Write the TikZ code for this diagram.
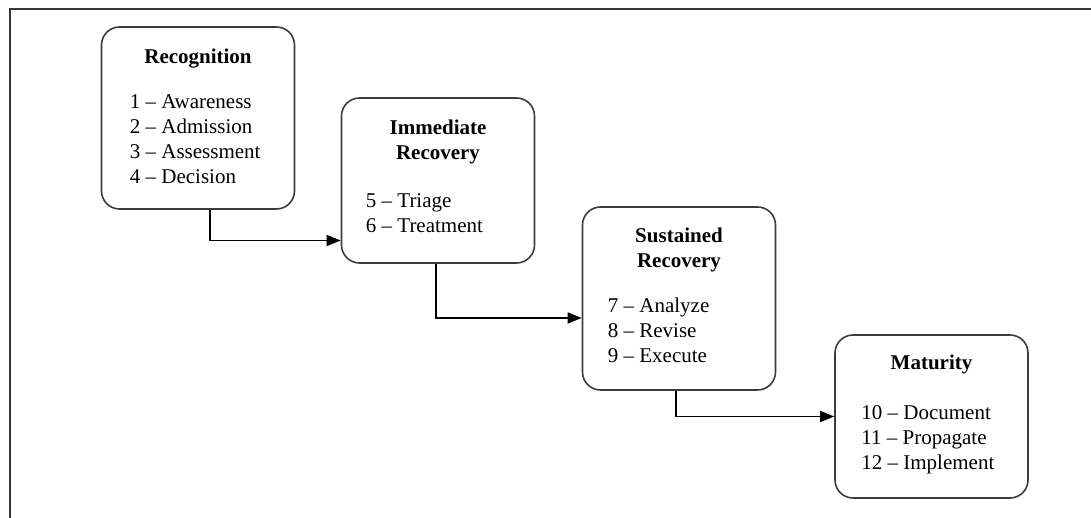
\documentclass[tikz,border=0pt]{standalone}
\usepackage{fontspec}
\setmainfont{Liberation Serif}
\usetikzlibrary{arrows.meta, positioning}
\definecolor{boxLine}{RGB}{60,60,60}
\definecolor{frameLine}{RGB}{55,55,55}

\begin{document}
\begin{tikzpicture}[x=1pt, y=1pt,
    phase/.style={draw=boxLine, line width=1.6pt, rounded corners=18pt, fill=white, minimum width=193pt, inner sep=0pt},
    phasetitle/.style={font=\fontsize{21}{25}\selectfont\bfseries, align=center, anchor=base, inner sep=0pt},
    items/.style={font=\fontsize{21}{25}\selectfont, align=left, anchor=base west, inner sep=0pt},
    flow/.style={-{Triangle[length=14pt, width=11pt]}, line width=1.6pt, draw=black},
    frame/.style={draw=frameLine, line width=2pt}
]
    \useasboundingbox (0,0) rectangle (1091,518);
    \draw[frame] (10,0) -- (10,509) -- (1091,509);

    % phase boxes
    \node[phase, minimum height=182pt] (rec) at (198,400) {};
    \node[phase, minimum height=165pt] (imm) at (438,337.5) {};
    \node[phase, minimum height=183pt] (sus) at (679,219.5) {};
    \node[phase, minimum height=163pt] (mat) at (931.5,101.5) {};

    % titles and steps (base = last line)
    \node[phasetitle] (rec-title) at ([yshift=-37pt]rec.north) {Recognition};
    \node[items] (rec-list) at ([xshift=29pt, yshift=-157pt]rec.north west) {1 -- Awareness\\2 -- Admission\\3 -- Assessment\\4 -- Decision};
    \node[phasetitle] (imm-title) at ([yshift=-62pt]imm.north) {Immediate\\Recovery};
    \node[items] (imm-list) at ([xshift=25pt, yshift=-135pt]imm.north west) {5 -- Triage\\6 -- Treatment};
    \node[phasetitle] (sus-title) at ([yshift=-61pt]sus.north) {Sustained\\Recovery};
    \node[items] (sus-list) at ([xshift=26pt, yshift=-156pt]sus.north west) {7 -- Analyze\\8 -- Revise\\9 -- Execute};
    \node[phasetitle] (mat-title) at ([yshift=-35pt]mat.north) {Maturity};
    \node[items] (mat-list) at ([xshift=27pt, yshift=-135pt]mat.north west) {10 -- Document\\11 -- Propagate\\12 -- Implement};

    \draw[flow] ([xshift=12pt]rec.south) |- ([yshift=-60pt]imm.west);
    \draw[flow] ([xshift=-2pt]imm.south) |- ([yshift=-19.5pt]sus.west);
    \draw[flow] ([xshift=-3pt]sus.south) |- (mat.west);
\end{tikzpicture}
\end{document}
